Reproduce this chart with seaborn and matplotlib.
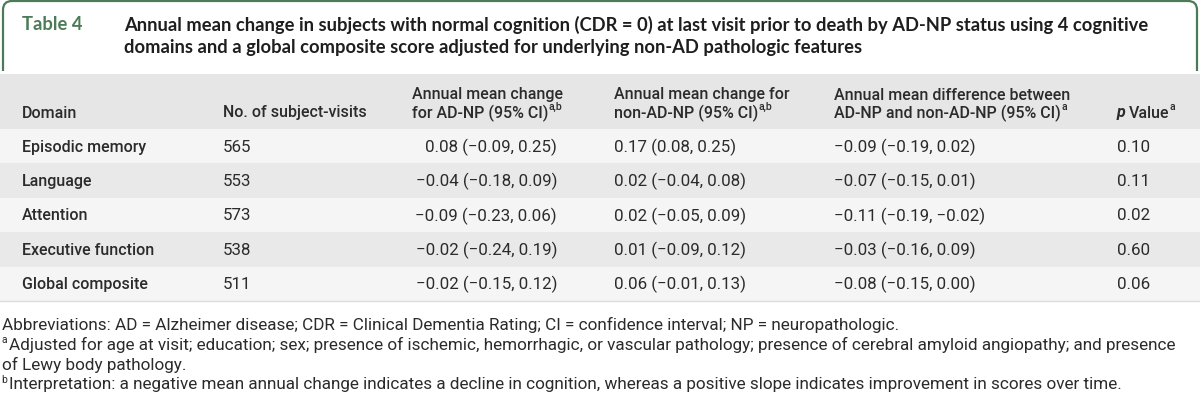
import matplotlib
matplotlib.use("Agg")
import matplotlib.pyplot as plt
import seaborn as sns
import pandas as pd
from matplotlib.patches import FancyBboxPatch, Rectangle

# table data
domains = ["Episodic memory", "Language", "Attention", "Executive function", "Global composite"]
n_visits = [565, 553, 573, 538, 511]
ad_est = [0.08, -0.04, -0.09, -0.02, -0.02]
ad_lo = [-0.09, -0.18, -0.23, -0.24, -0.15]
ad_hi = [0.25, 0.09, 0.06, 0.19, 0.12]
non_est = [0.17, 0.02, 0.02, 0.01, 0.06]
non_lo = [0.08, -0.04, -0.05, -0.09, -0.01]
non_hi = [0.25, 0.08, 0.09, 0.12, 0.13]
diff_est = [-0.09, -0.07, -0.11, -0.03, -0.08]
diff_lo = [-0.19, -0.15, -0.19, -0.16, -0.15]
diff_hi = [0.02, 0.01, -0.02, 0.09, 0.00]
p_values = [0.10, 0.11, 0.02, 0.60, 0.06]

title_tag = "Table 4"
title_lines = ["Annual mean change in subjects with normal cognition (CDR = 0) at last visit prior to death by AD-NP status using 4 cognitive",
               "domains and a global composite score adjusted for underlying non-AD pathologic features"]
footnotes = [("", "Abbreviations: AD = Alzheimer disease; CDR = Clinical Dementia Rating; CI = confidence interval; NP = neuropathologic."),
             ("a", "Adjusted for age at visit; education; sex; presence of ischemic, hemorrhagic, or vascular pathology; presence of cerebral amyloid angiopathy; and presence"),
             ("", "of Lewy body pathology."),
             ("b", "Interpretation: a negative mean annual change indicates a decline in cognition, whereas a positive slope indicates improvement in scores over time.")]


def fmt(v):
    s = f"{abs(v):.2f}"
    return ("\u2212" + s) if v < 0 else s


def ci(e, lo, hi):
    return f"{fmt(e)} ({fmt(lo)}, {fmt(hi)})"


df = pd.DataFrame({
    "domain": domains,
    "n": n_visits,
    "ad": [ci(*t) for t in zip(ad_est, ad_lo, ad_hi)],
    "non": [ci(*t) for t in zip(non_est, non_lo, non_hi)],
    "diff": [ci(*t) for t in zip(diff_est, diff_lo, diff_hi)],
    "p": [f"{p:.2f}" for p in p_values],
})

sns.set_theme(style="white")
plt.rcParams['font.family'] = ['Roboto', 'DejaVu Sans']

W, H = 1200, 406
fig = plt.figure(figsize=(W / 100, H / 100), dpi=100)
ax = fig.add_axes([0, 0, 1, 1])
ax.set_xlim(0, W)
ax.set_ylim(H, 0)
ax.axis("off")
renderer = fig.canvas.get_renderer()

green = "#4b7b57"
txt = "#2b2b2b"

# title frame
ax.add_patch(FancyBboxPatch((3, 2), 1194, 100, boxstyle="round,pad=0,rounding_size=9",
                            fc="white", ec=green, lw=1.6, zorder=1))
ax.add_patch(Rectangle((0, 72), W, 6, fc="white", ec="none", zorder=2))

ax.text(22, 25, title_tag, color=green, fontsize=13.2, fontweight="bold",
        family=["Lato", "DejaVu Sans"], va="center", zorder=5)
for i, line in enumerate(title_lines):
    ax.text(124, 25 + 22 * i, line, color="#1e1e1e", fontsize=13.2, fontweight="bold",
            family=["Lato", "DejaVu Sans"], va="center", zorder=5)

# header and row bands
header_top, header_bot = 75, 130
row_h = 34.4
ax.add_patch(Rectangle((0, header_top), W, header_bot - header_top, fc="#e6e6e6", ec="none", zorder=2))
for i in range(len(df)):
    fc = "#f5f5f5" if i % 2 == 0 else "#e9e9e9"
    ax.add_patch(Rectangle((0, header_bot + i * row_h), W, row_h, fc=fc, ec="none", zorder=2))
table_bot = header_bot + len(df) * row_h
ax.plot([0, W], [table_bot, table_bot], color="#dcdcdc", lw=1, zorder=3)

cols = [22, 223, 557, 614, 834, 1117]
fs = 11.5
fs_val = 12.2


def put(x, y, s, sup=None, size=fs, **kw):
    t = ax.text(x, y, s, va="center", color=txt, fontsize=size, zorder=5, **kw)
    if sup:
        bb = t.get_window_extent(renderer)
        ax.text(bb.x1 + 0.5, y - 6, sup, va="center", color=txt, fontsize=7.5, zorder=5,
                fontweight=kw.get("fontweight", "normal"))
    return t


hw = "medium"
l1, l2 = 95, 113
put(cols[0], l2, "Domain", fontweight=hw)
put(cols[1], l2, "No. of subject-visits", fontweight=hw)
put(412, l1, "Annual mean change", fontweight=hw)
put(412, l2, "for AD-NP (95% CI)", sup="a,b", fontweight=hw)
put(cols[3], l1, "Annual mean change for", fontweight=hw)
put(cols[3], l2, "non-AD-NP (95% CI)", sup="a,b", fontweight=hw)
put(cols[4], l1, "Annual mean difference between", fontweight=hw)
put(cols[4], l2, "AD-NP and non-AD-NP (95% CI)", sup="a", fontweight=hw)
pt = put(cols[5], l2, "p", fontweight="bold", style="italic")
pb = pt.get_window_extent(renderer)
put(pb.x1 + 3, l2, "Value", sup="a", fontweight=hw)

for i, row in df.iterrows():
    y = header_bot + (i + 0.5) * row_h
    put(cols[0], y, row["domain"], fontweight=hw)
    put(cols[1], y, str(row["n"]), size=fs_val)
    put(cols[2], y, row["ad"], ha="right", size=fs_val)
    put(cols[3], y, row["non"], size=fs_val)
    put(cols[4], y, row["diff"], size=fs_val)
    put(cols[5], y, row["p"], size=fs_val)

# footnotes
fy = [325, 345, 365, 385]
for (mark, line), y in zip(footnotes, fy):
    x0 = 2
    if mark:
        ax.text(1, y - 5, mark, fontsize=7.5, color=txt, va="center")
        x0 = 9
    ax.text(x0, y, line, fontsize=12.3, color=txt, va="center")

fig.savefig("out.png", dpi=100)
